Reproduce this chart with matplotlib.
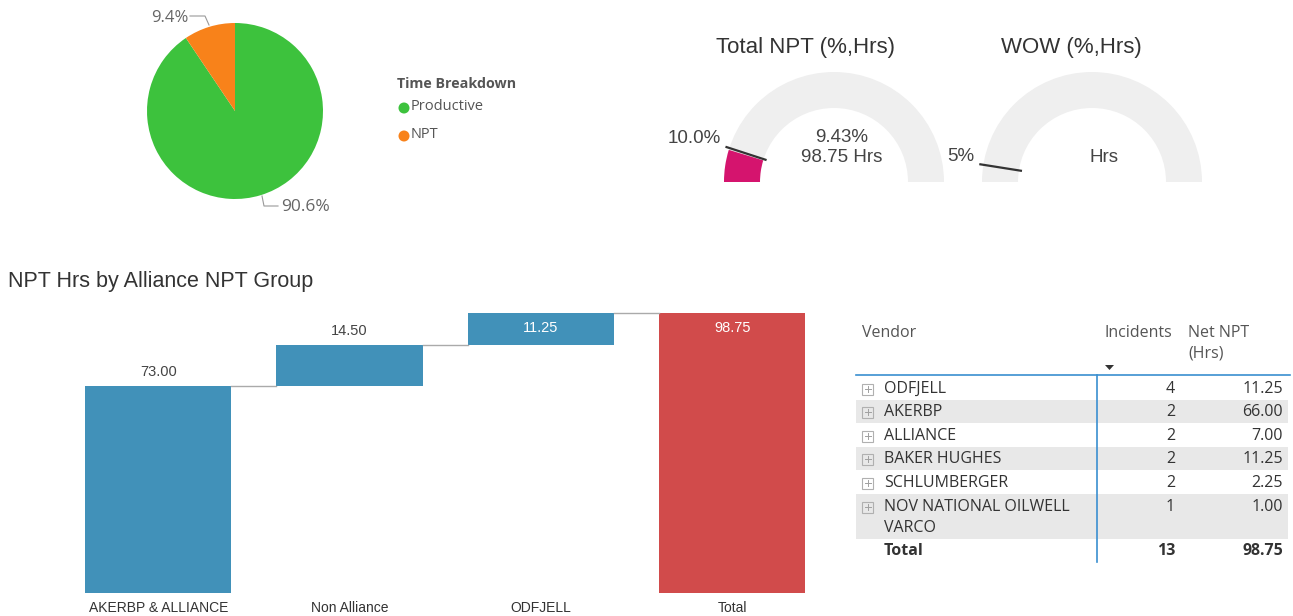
import numpy as np
import matplotlib
matplotlib.use("Agg")
import matplotlib.pyplot as plt
from matplotlib.patches import Wedge, Rectangle, Circle

# ---- data ----
time_labels = ["Productive", "NPT"]
time_pct = [90.57, 9.43]
time_colors = ["#3DC23D", "#F8821A"]

npt_pct = 9.43
npt_hrs = 98.75
npt_target = 10.0
wow_target = 5.0

wf_cats = ["AKERBP & ALLIANCE", "Non Alliance", "ODFJELL"]
wf_vals = [73.00, 14.50, 11.25]

vendors = ["ODFJELL", "AKERBP", "ALLIANCE", "BAKER HUGHES", "SCHLUMBERGER",
           "NOV NATIONAL OILWELL\nVARCO"]
incidents = [4, 2, 2, 2, 2, 1]
net_npt = [11.25, 66.00, 7.00, 11.25, 2.25, 1.00]

W, H = 1293, 616
fig = plt.figure(figsize=(W / 100, H / 100), dpi=100)
fig.patch.set_facecolor("white")

ARIAL = ["Liberation Sans", "DejaVu Sans"]
SEGOE = ["Open Sans", "DejaVu Sans"]


def px_axes(x0, y0, x1, y1):
    return fig.add_axes([x0 / W, 1 - y1 / H, (x1 - x0) / W, (y1 - y0) / H])


# overlay in pixel coords
ov = fig.add_axes([0, 0, 1, 1])
ov.set_xlim(0, W)
ov.set_ylim(H, 0)
ov.axis("off")

# ---- pie ----
pax = px_axes(147, 23, 323, 199)
pax.pie(time_pct, colors=time_colors, startangle=90, counterclock=False,
        radius=1, wedgeprops=dict(linewidth=0))
pax.set_xlim(-1, 1)
pax.set_ylim(-1, 1)
pax.axis("off")

ov.plot([190, 205, 209], [16, 16, 25], color="#999999", lw=0.8)
ov.text(188, 18, f"{time_pct[1]:.1f}%", ha="right", va="center",
        fontsize=12, color="#666666", family=SEGOE)
ov.plot([262, 264, 278], [196, 206, 206], color="#999999", lw=0.8)
ov.text(281, 207, f"{time_pct[0]:.1f}%", ha="left", va="center",
        fontsize=12.5, color="#666666", family=SEGOE)

ov.text(397, 84, "Time Breakdown", ha="left", va="center", fontsize=10.3,
        fontweight="bold", color="#555555", family=SEGOE)
for i, (lab, col) in enumerate(zip(time_labels, time_colors)):
    y = 108 + i * 28
    ov.add_patch(Circle((404, y), 5.5, color=col, lw=0))
    ov.text(411, y - 1, lab, ha="left", va="center", fontsize=10.5,
            color="#555555", family=SEGOE)

# ---- gauges ----
r_out, r_in = 110, 74
gauges = [
    dict(cx=834, cy=182, val=npt_pct, tgt=npt_target, title="Total NPT (%,Hrs)",
         tx=806, tlab=f"{npt_target:.1f}%",
         main=[f"{npt_pct:.2f}%", f"{npt_hrs:.2f} Hrs"]),
    dict(cx=1092, cy=182, val=None, tgt=wow_target, title="WOW (%,Hrs)",
         tx=1071, tlab=f"{wow_target:.0f}%", main=["Hrs"]),
]
for g in gauges:
    cx, cy = g["cx"], g["cy"]
    ov.add_patch(Wedge((cx, cy), r_out, 180, 360, width=r_out - r_in,
                       color="#EFEFEF", lw=0))
    if g["val"] is not None:
        th = 180 + g["val"] / 100 * 180
        ov.add_patch(Wedge((cx, cy), r_out, 180, th, width=r_out - r_in,
                           color="#D5146E", lw=0))
    tt = np.radians(180 + g["tgt"] / 100 * 180)
    rr = np.array([r_in - 2, r_out + 3])
    ov.plot(cx + rr * np.cos(tt), cy + rr * np.sin(tt), color="#333333", lw=1.6)
    ov.text(g["tx"], 48, g["title"], ha="center", va="center", fontsize=16,
            color="#333333", family=ARIAL)
    lx = cx + (r_out + 4) * np.cos(tt)
    ly = cy + (r_out + 4) * np.sin(tt)
    ov.text(lx - 5, ly - 8, g["tlab"], ha="right", va="center", fontsize=13.5,
            color="#444444", family=ARIAL)
    if len(g["main"]) == 2:
        ov.text(cx + 8, 137, g["main"][0], ha="center", va="center",
                fontsize=13.5, color="#444444", family=ARIAL)
        ov.text(cx + 8, 158, g["main"][1], ha="center", va="center",
                fontsize=13.5, color="#444444", family=ARIAL)
    else:
        ov.text(cx + 12, 158, g["main"][0], ha="center", va="center",
                fontsize=13.5, color="#444444", family=ARIAL)

# ---- waterfall ----
ov.text(8, 281, "NPT Hrs by Alliance NPT Group", ha="left", va="center",
        fontsize=15.5, color="#333333", family=ARIAL)

wax = px_axes(62.6, 300, 827.9, 593)
total = sum(wf_vals)
bottoms = np.concatenate([[0], np.cumsum(wf_vals)[:-1]])
cats = wf_cats + ["Total"]
heights = list(wf_vals) + [total]
bots = list(bottoms) + [0]
cols = ["#4191B9"] * len(wf_vals) + ["#D14B4B"]
x = np.arange(len(cats))
bw = 0.765
wax.bar(x, heights, bottom=bots, width=bw, color=cols, lw=0)
for i in range(len(cats) - 1):
    lvl = bots[i] + heights[i]
    wax.plot([x[i] + bw / 2, x[i + 1] - bw / 2], [lvl, lvl], color="#AAAAAA", lw=1)
for xi, h, b in zip(x, heights, bots):
    top = b + h
    if top > 95:
        wax.annotate(f"{h:.2f}", (xi, top), xytext=(0, -11), textcoords="offset points",
                     ha="center", va="center", fontsize=10.5, color="white", family=ARIAL)
    else:
        wax.annotate(f"{h:.2f}", (xi, top), xytext=(0, 10), textcoords="offset points",
                     ha="center", va="center", fontsize=10.5, color="#444444", family=ARIAL)
wax.set_xlim(-0.5, 3.5)
wax.set_ylim(0, 103.35)
wax.set_xticks(x)
wax.set_xticklabels(cats, fontsize=10, color="#333333", family=ARIAL)
wax.tick_params(axis="x", length=0, pad=6)
wax.set_yticks([])
for s in wax.spines.values():
    s.set_visible(False)
wax.patch.set_alpha(0)

# ---- table ----
tc = "#333333"
hc = "#555555"
fs = 11.5
ov.text(862, 333, "Vendor", ha="left", va="center", fontsize=fs, color=hc, family=SEGOE)
ov.text(1105, 333, "Incidents", ha="left", va="center", fontsize=fs, color=hc, family=SEGOE)
ov.text(1188, 333, "Net NPT", ha="left", va="center", fontsize=fs, color=hc, family=SEGOE)
ov.text(1188, 353, "(Hrs)", ha="left", va="center", fontsize=fs, color=hc, family=SEGOE)
ov.fill([1105, 1114, 1109.5], [365, 365, 370], color="#333333", lw=0)

row_y = [389, 412, 436, 459, 483, 507]
row_band = [(377, 400), (400, 423), (423, 447), (447, 470), (470, 494), (494, 539)]
for i, (v, n, hrs) in enumerate(zip(vendors, incidents, net_npt)):
    y0, y1 = row_band[i]
    if i % 2 == 1:
        ov.add_patch(Rectangle((856, y0), 432, y1 - y0, color="#E8E8E8", lw=0, zorder=0))
    y = row_y[i]
    ov.add_patch(Rectangle((862, y - 5.5), 11, 11, fill=False, ec="#B0B0B0", lw=0.8))
    ov.plot([864.5, 870.5], [y, y], color="#A0A0A0", lw=0.7)
    ov.plot([867.5, 867.5], [y - 3, y + 3], color="#A0A0A0", lw=0.7)
    for k, line in enumerate(v.split("\n")):
        ov.text(884, y + k * 21, line, ha="left", va="center",
                fontsize=fs, color=tc, family=SEGOE)
    ov.text(1175, y, f"{n}", ha="right", va="center", fontsize=fs, color=tc, family=SEGOE)
    ov.text(1283, y, f"{hrs:.2f}", ha="right", va="center", fontsize=fs, color=tc, family=SEGOE)

ov.text(884, 551, "Total", ha="left", va="center", fontsize=fs, fontweight="bold", color=tc, family=SEGOE)
ov.text(1175, 551, f"{sum(incidents)}", ha="right", va="center", fontsize=fs, fontweight="bold", color=tc, family=SEGOE)
ov.text(1283, 551, f"{sum(net_npt):.2f}", ha="right", va="center", fontsize=fs, fontweight="bold", color=tc, family=SEGOE)

ov.plot([856, 1290], [375, 375], color="#3A8FD0", lw=1.2)
ov.plot([1097, 1097], [375, 562], color="#3A8FD0", lw=1.2)

fig.savefig("out.png", dpi=100, facecolor="white")
